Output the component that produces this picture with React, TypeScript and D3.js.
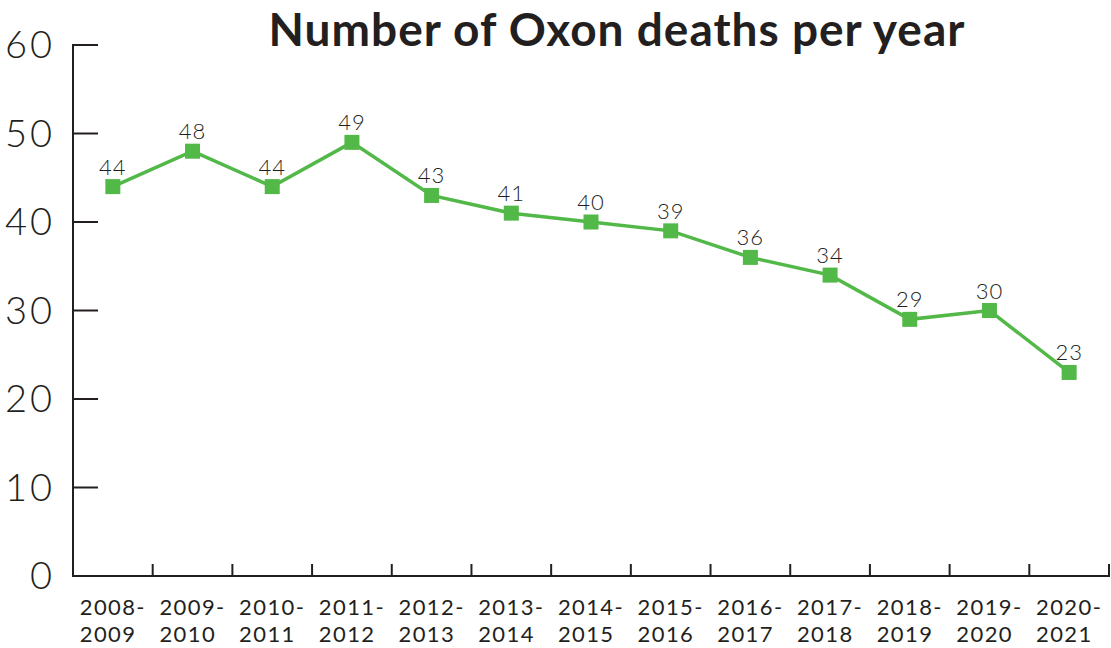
import React, { useEffect, useRef } from "react";
import * as d3 from "d3";

const categories = [
  ["2008-", "2009"], ["2009-", "2010"], ["2010-", "2011"], ["2011-", "2012"],
  ["2012-", "2013"], ["2013-", "2014"], ["2014-", "2015"], ["2015-", "2016"],
  ["2016-", "2017"], ["2017-", "2018"], ["2018-", "2019"], ["2019-", "2020"],
  ["2020-", "2021"],
];
const deaths = [44, 48, 44, 49, 43, 41, 40, 39, 36, 34, 29, 30, 23];
const yTicks = [0, 10, 20, 30, 40, 50, 60];
const title = "Number of Oxon deaths per year";

const W = 1111, H = 648;
const GREEN = "#52b848";
const DARK = "#231f20";

export default function App() {
  const ref = useRef<SVGSVGElement>(null);
  useEffect(() => {
    const svg = d3.select(ref.current);
    svg.selectAll("*").remove();
    const x0 = 73, x1 = 1109, yTop = 45, yBot = 576;
    const keys = categories.map((c) => c.join(""));
    const x = d3.scaleBand().domain(keys).range([x0, x1]).padding(0);
    const y = d3.scaleLinear().domain([0, 60]).range([yBot, yTop]);
    const cx = (i: number) => (x(keys[i]) as number) + x.bandwidth() / 2;

    svg.append("text").attr("x", 617).attr("y", 46).attr("text-anchor", "middle")
      .attr("font-family", "Lato").attr("font-weight", 700).attr("font-size", 46)
      .attr("letter-spacing", 1)
      .attr("fill", DARK).text(title);

    // axes
    svg.append("line").attr("x1", x0).attr("x2", x0).attr("y1", yTop - 1).attr("y2", yBot + 1)
      .attr("stroke", DARK).attr("stroke-width", 2);
    svg.append("line").attr("x1", x0 - 1).attr("x2", x1 + 1).attr("y1", yBot).attr("y2", yBot)
      .attr("stroke", DARK).attr("stroke-width", 2);
    yTicks.forEach((t) => {
      svg.append("line").attr("x1", x0).attr("x2", x0 + 25).attr("y1", y(t)).attr("y2", y(t))
        .attr("stroke", DARK).attr("stroke-width", 2);
      svg.append("text").attr("x", 55).attr("y", y(t) + 13).attr("text-anchor", "end")
        .attr("font-family", "Lato").attr("font-weight", 300).attr("font-size", 38)
        .attr("letter-spacing", 3)
        .attr("fill", DARK).text(String(t));
    });
    const bounds = keys.map((k) => x(k) as number).concat([x1]);
    bounds.slice(1).forEach((b) => {
      svg.append("line").attr("x1", b).attr("x2", b).attr("y1", yBot - 12).attr("y2", yBot)
        .attr("stroke", DARK).attr("stroke-width", 2);
    });
    categories.forEach((c, i) => {
      const t = svg.append("text").attr("font-family", "Lato").attr("font-weight", 400)
        .attr("font-size", 22).attr("letter-spacing", 1.4).attr("fill", DARK);
      const a = t.append("tspan").attr("y", 615).text(c[0]);
      const b = t.append("tspan").attr("y", 642).text(c[1]);
      const w = (a.node() as SVGTextContentElement).getComputedTextLength();
      a.attr("x", cx(i) - w / 2);
      b.attr("x", cx(i) - w / 2);
    });

    const line = d3.line<number>().x((_, i) => cx(i)).y((d) => y(d));
    svg.append("path").attr("d", line(deaths) as string).attr("fill", "none")
      .attr("stroke", GREEN).attr("stroke-width", 3.5);
    deaths.forEach((d, i) => {
      svg.append("rect").attr("x", cx(i) - 7.5).attr("y", y(d) - 7.5).attr("width", 15)
        .attr("height", 15).attr("fill", GREEN);
      svg.append("text").attr("x", cx(i)).attr("y", y(d) - 12).attr("text-anchor", "middle")
        .attr("font-family", "Lato").attr("font-weight", 300).attr("font-size", 22)
        .attr("letter-spacing", 1)
        .attr("fill", DARK).text(String(d));
    });
  }, []);
  return (
    <svg ref={ref} width={W} height={H} style={{ position: "absolute", left: 0, top: 0, background: "#fff" }} />
  );
}
